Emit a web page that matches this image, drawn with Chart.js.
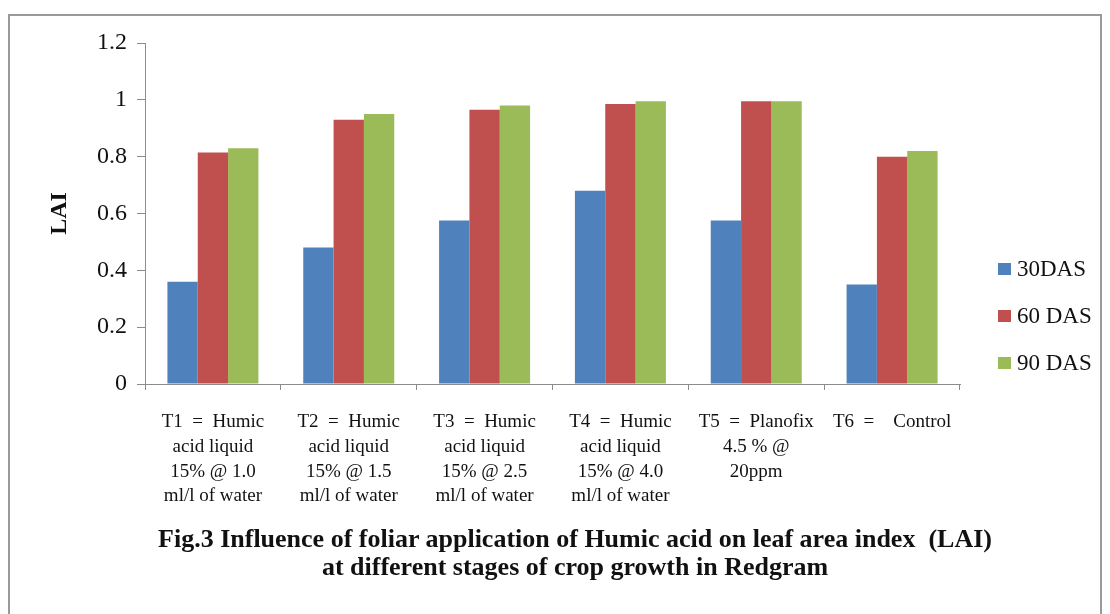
<!DOCTYPE html>
<html>
<head>
<meta charset="utf-8">
<script src="https://cdn.jsdelivr.net/npm/chart.js@4.4.1/dist/chart.umd.min.js"></script>
<style>
  html, body { margin: 0; padding: 0; background: #fff; }
  #wrap { position: relative; width: 1110px; height: 614px; overflow: hidden; }
  #frame { position: absolute; left: 8px; top: 14px; width: 1094px; height: 620px; border: 2px solid #9a9a9a; box-sizing: border-box; }
  canvas { position: absolute; left: 0; top: 0; }
  .leg { position: absolute; left: 998px; font-family: "Liberation Serif", serif; font-size: 23px; color: #111; }
  .leg span { display: inline-block; width: 13px; height: 12px; margin-right: 6px; vertical-align: 1px; }
  #title { position: absolute; left: 0; width: 1150px; top: 525px; text-align: center; font-family: "Liberation Serif", serif; font-weight: bold; font-size: 26px; line-height: 28px; color: #111; }
</style>
</head>
<body>
<div id="wrap">
  <div id="frame"></div>
  <canvas id="chart" width="1110" height="614"></canvas>
  <div id="legend"></div>
  <div id="title">Fig.3 Influence of foliar application of Humic acid on leaf area index&nbsp; (LAI)<br>at different stages of crop growth in Redgram</div>
</div>
<script>
// Treatments (x categories), one array of lines per label
const treatments = [
  ["T1  =  Humic", "acid liquid", "15% @ 1.0", "ml/l of water"],
  ["T2  =  Humic", "acid liquid", "15% @ 1.5", "ml/l of water"],
  ["T3  =  Humic", "acid liquid", "15% @ 2.5", "ml/l of water"],
  ["T4  =  Humic", "acid liquid", "15% @ 4.0", "ml/l of water"],
  ["T5  =  Planofix", "4.5 % @", "20ppm"],
  ["T6  =    Control"],
]
const seriesNames = ["30DAS", "60 DAS", "90 DAS"]
const das30 = [0.36, 0.48, 0.575, 0.68, 0.575, 0.35]
const das60 = [0.815, 0.93, 0.965, 0.985, 0.995, 0.80]
const das90 = [0.83, 0.95, 0.98, 0.995, 0.995, 0.82]
const yTicks = [0, 0.2, 0.4, 0.6, 0.8, 1, 1.2]
const colors = ["#4F81BD", "#C0504D", "#9BBB59"]

const serif = "'Liberation Serif', serif"
const axisColor = "#8c8c8c"

// legend on the right
const legendTops = [256, 303, 350]
const legendEl = document.getElementById("legend")
seriesNames.forEach((name, i) => {
  const d = document.createElement("div")
  d.className = "leg"
  d.style.top = legendTops[i] + "px"
  d.innerHTML = `<span style="background:${colors[i]}"></span>${name}`
  legendEl.appendChild(d)
})

const ctx = document.getElementById("chart").getContext("2d")
new Chart(ctx, {
  type: "bar",
  data: {
    labels: treatments,
    datasets: [das30, das60, das90].map((vals, i) => ({
      label: seriesNames[i],
      data: vals,
      backgroundColor: colors[i],
      borderWidth: 0,
      categoryPercentage: 0.67,
      barPercentage: 1.0,
    })),
  },
  options: {
    responsive: false,
    animation: false,
    devicePixelRatio: 1,
    layout: { padding: { left: 45, top: 43, right: 150, bottom: 100 } },
    plugins: {
      legend: { display: false },
      tooltip: { enabled: false },
    },
    scales: {
      x: {
        offset: true,
        grid: { display: true, drawOnChartArea: false, tickLength: 6, color: axisColor, offset: true },
        border: { color: axisColor, width: 1 },
        ticks: {
          color: "#111",
          font: { family: serif, size: 19, lineHeight: 1.3 },
          maxRotation: 0,
          autoSkip: false,
          padding: 20,
        },
        afterFit: (s) => { s.height = 130 },
      },
      y: {
        min: 0,
        max: 1.2,
        afterBuildTicks: (s) => { s.ticks = yTicks.map((v) => ({ value: v })) },
        grid: { display: true, drawOnChartArea: false, tickLength: 8, color: axisColor },
        border: { color: axisColor, width: 1 },
        ticks: {
          color: "#111",
          font: { family: serif, size: 24 },
          padding: 10,
          callback: (v) => String(+Number(v).toFixed(1)),
        },
        title: {
          display: true,
          text: "LAI",
          color: "#111",
          font: { family: serif, size: 24, weight: "bold" },
          padding: { top: 0, bottom: 0 },
        },
        afterFit: (s) => { s.width = 100 },
      },
    },
  },
})
</script>
</body>
</html>
